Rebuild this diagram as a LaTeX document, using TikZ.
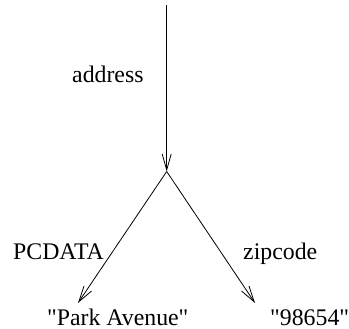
\documentclass[tikz,border=0pt]{standalone}
\usepackage{fontspec}
\setmainfont{Liberation Serif}[Ligatures=TeXOff]
\usetikzlibrary{arrows.meta}
\begin{document}
\begin{tikzpicture}[x=1pt,y=1pt,
  lbl/.style={anchor=base west,inner sep=0pt,font=\fontsize{23.8}{28}\selectfont},
  edge/.style={line width=0.8pt,-{Straight Barb[length=16pt,width=9pt,line width=0.8pt]}}]
\useasboundingbox (0,0) rectangle (349,329);
% tree points
\coordinate (root) at (166.7,324);
\coordinate (mid) at (166.7,157.5);
\coordinate (left) at (78,26);
\coordinate (right) at (255,26);
% edges
\draw[edge] (root) -- (mid);
\draw[edge] (mid) -- (left);
\draw[edge] (mid) -- (right);
% labels
\node[lbl] (laddr) at (72,246) {address};
\node[lbl] (lpc) at (13,69) {PCDATA};
\node[lbl] (lzip) at (243,69) {zipcode};
\node[lbl] (vpark) at (47,3.5) {"Park Avenue"};
\node[lbl] (vnum) at (270,3.5) {"98654"};
\end{tikzpicture}
\end{document}
